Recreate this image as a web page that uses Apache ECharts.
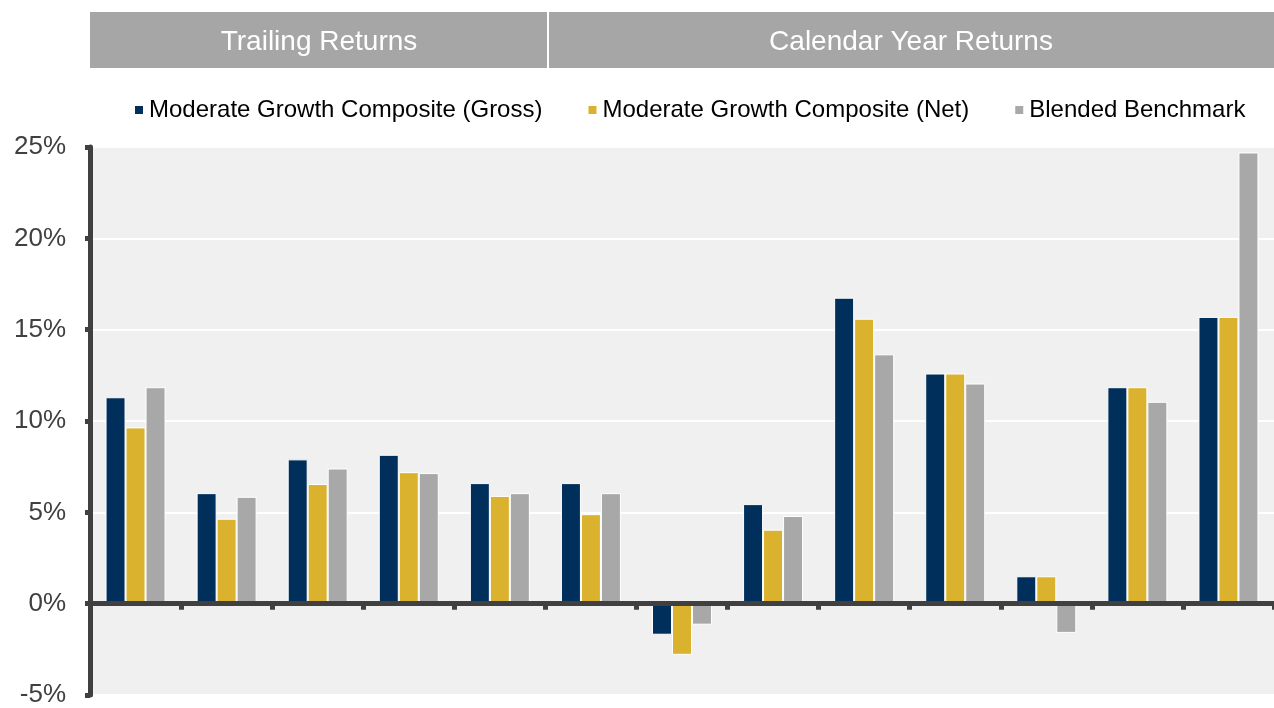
<!DOCTYPE html>
<html>
<head>
<meta charset="utf-8">
<script src="https://cdn.jsdelivr.net/npm/echarts@6/dist/echarts.min.js"></script>
<style>
  html, body { margin: 0; padding: 0; background: #fff; }
  #chart { width: 1274px; height: 708px; }
</style>
</head>
<body>
<div id="chart"></div>
<script>
// 13 periods, no labels shown on the axis
var categories = ['1', '2', '3', '4', '5', '6', '7', '8', '9', '10', '11', '12', '13'];
var grossData = [11.3, 6.05, 7.9, 8.15, 6.6, 6.6, -1.7, 5.45, 16.75, 12.6, 1.5, 11.85, 15.7];
var netData = [9.65, 4.65, 6.55, 7.2, 5.9, 4.9, -2.8, 4.05, 15.6, 12.6, 1.5, 11.85, 15.7];
var benchData = [11.85, 5.85, 7.4, 7.15, 6.05, 6.05, -1.15, 4.8, 13.65, 12.05, -1.6, 11.05, 24.7];
var seriesNames = ['Moderate Growth Composite (Gross)', 'Moderate Growth Composite (Net)', 'Blended Benchmark'];
var headerLabels = ['Trailing Returns', 'Calendar Year Returns'];
var trailingCount = 5;

var font = 'Liberation Sans, Arial, sans-serif';
var gridLeft = 90;
var catWidth = 91.6;
var gridWidth = catWidth * categories.length;

var chart = echarts.init(document.getElementById('chart'));

function bar(name, data, color) {
  return {
    name: name,
    type: 'bar',
    data: data,
    barWidth: 20,
    barGap: '0%',
    itemStyle: {
      color: color,
      borderColor: '#ffffff',
      borderWidth: 1
    }
  };
}

var splitX = gridLeft + catWidth * trailingCount;

var option = {
  animation: false,
  textStyle: { fontFamily: font },
  legend: {
    top: 93,
    left: 128,
    itemWidth: 10,
    itemHeight: 10,
    itemGap: 44,
    icon: 'rect',
    textStyle: { fontSize: 24, color: '#000', fontFamily: font, padding: [0, 0, 0, 0] },
    data: seriesNames
  },
  grid: {
    left: gridLeft,
    top: 147,
    bottom: 9,
    width: gridWidth,
    show: true,
    backgroundColor: '#f0f0f0',
    borderWidth: 0
  },
  xAxis: {
    type: 'category',
    data: categories,
    z: 5,
    axisLine: { onZero: true, lineStyle: { color: '#404040', width: 5 } },
    axisTick: { show: true, length: 6, lineStyle: { color: '#404040', width: 5 } },
    axisLabel: { show: false },
    splitLine: { show: false }
  },
  yAxis: {
    type: 'value',
    min: -5,
    max: 25,
    interval: 5,
    axisLine: { show: true, lineStyle: { color: '#404040', width: 5 } },
    axisTick: { show: true, length: 5, lineStyle: { color: '#404040', width: 5 } },
    axisLabel: {
      formatter: '{value}%',
      fontSize: 26,
      color: '#404040',
      fontFamily: font,
      margin: 24
    },
    splitLine: { show: true, lineStyle: { color: '#ffffff', width: 2 } }
  },
  graphic: [
    {
      type: 'rect',
      shape: { x: gridLeft, y: 12, width: splitX - gridLeft - 1, height: 56 },
      style: { fill: '#a6a6a6' }
    },
    {
      type: 'rect',
      shape: { x: splitX + 1, y: 12, width: 1274 - splitX - 1, height: 56 },
      style: { fill: '#a6a6a6' }
    },
    {
      type: 'text',
      x: (gridLeft + splitX) / 2,
      y: 42,
      style: {
        text: headerLabels[0],
        fill: '#ffffff',
        font: '28px ' + font,
        textAlign: 'center',
        textVerticalAlign: 'middle'
      }
    },
    {
      type: 'text',
      x: (splitX + 1274) / 2,
      y: 42,
      style: {
        text: headerLabels[1],
        fill: '#ffffff',
        font: '28px ' + font,
        textAlign: 'center',
        textVerticalAlign: 'middle'
      }
    }
  ],
  series: [
    bar(seriesNames[0], grossData, '#002f5b'),
    bar(seriesNames[1], netData, '#dbb22e'),
    bar(seriesNames[2], benchData, '#a8a8a8')
  ]
};

chart.setOption(option);
</script>
</body>
</html>
